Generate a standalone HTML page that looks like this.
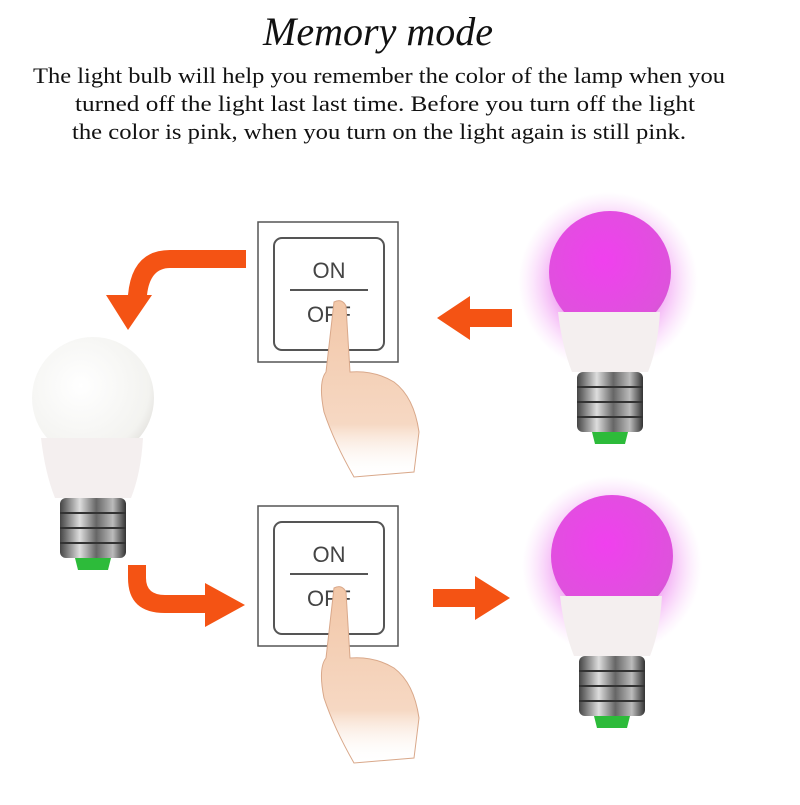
<!DOCTYPE html>
<html><head><meta charset="utf-8"><style>
html,body{margin:0;padding:0;background:#fff;}
body{width:800px;height:800px;overflow:hidden;position:relative;}
</style></head><body>
<svg width="800" height="800" viewBox="0 0 800 800" xmlns="http://www.w3.org/2000/svg">
<defs>
<radialGradient id="glow"><stop offset="0.45" stop-color="#e455e8" stop-opacity="0.8"/><stop offset="1" stop-color="#f6b8f7" stop-opacity="0"/></radialGradient>
<radialGradient id="pink" cx="0.45" cy="0.4" r="0.7"><stop offset="0" stop-color="#f040ee"/><stop offset="0.8" stop-color="#de52dc"/><stop offset="1" stop-color="#c85ac8"/></radialGradient>
<radialGradient id="white" cx="0.4" cy="0.4" r="0.7"><stop offset="0" stop-color="#ffffff"/><stop offset="0.8" stop-color="#f3f3f0"/><stop offset="1" stop-color="#dedcd8"/></radialGradient>
<linearGradient id="metal" x1="0" x2="1"><stop offset="0" stop-color="#444"/><stop offset="0.3" stop-color="#ddd"/><stop offset="0.55" stop-color="#666"/><stop offset="0.8" stop-color="#bbb"/><stop offset="1" stop-color="#333"/></linearGradient>
<linearGradient id="skin" x1="0" y1="0" x2="0" y2="1"><stop offset="0" stop-color="#f2c7a8"/><stop offset="0.7" stop-color="#f6d8c3"/><stop offset="1" stop-color="#fff" stop-opacity="0"/></linearGradient>
<g id="base">
<path d="M-52,40 L50,40 Q48,75 38,100 L-38,100 Q-48,75 -52,40 Z" fill="#f4efef"/>
<rect x="-33" y="100" width="66" height="60" rx="6" fill="url(#metal)"/>
<g stroke="#333" stroke-width="2"><line x1="-33" y1="115" x2="33" y2="115"/><line x1="-33" y1="130" x2="33" y2="130"/><line x1="-33" y1="145" x2="33" y2="145"/></g>
<path d="M-18,160 L18,160 L15,172 L-15,172 Z" fill="#2dbb3a"/>
</g>
<g id="hand">
<path d="M0,0 Q8,-4 12,4 L16,70 Q40,68 60,80 Q80,95 85,130 L80,170 L20,175 Q0,140 -10,110 Q-16,80 -8,70 Z" fill="url(#skin)" stroke="#d9a88a" stroke-width="1"/>
</g>
</defs>

<text x="378" y="45" text-anchor="middle" font-family="Liberation Serif, serif" font-style="italic" font-size="40" fill="#111" textLength="230" lengthAdjust="spacingAndGlyphs">Memory mode</text>
<g font-family="Liberation Serif, serif" font-size="22" fill="#111">
<text x="33" y="83" textLength="692" lengthAdjust="spacingAndGlyphs">The light bulb will help you remember the color of the lamp when you</text>
<text x="75" y="111" textLength="620" lengthAdjust="spacingAndGlyphs">turned off the light last last time. Before you turn off the light</text>
<text x="72" y="139" textLength="614" lengthAdjust="spacingAndGlyphs">the color is pink, when you turn on the light again is still pink.</text>
</g>

<!-- switches -->
<g fill="none" stroke="#555">
<rect x="258" y="222" width="140" height="140" stroke-width="1.5"/>
<rect x="274" y="238" width="110" height="112" rx="8" stroke-width="2"/>
<line x1="290" y1="290" x2="368" y2="290" stroke-width="2"/>
<rect x="258" y="506" width="140" height="140" stroke-width="1.5"/>
<rect x="274" y="522" width="110" height="112" rx="8" stroke-width="2"/>
<line x1="290" y1="574" x2="368" y2="574" stroke-width="2"/>
</g>
<g font-family="Liberation Sans, sans-serif" font-size="22" fill="#444" text-anchor="middle">
<text x="329" y="278">ON</text><text x="329" y="322">OFF</text>
<text x="329" y="562">ON</text><text x="329" y="606">OFF</text>
</g>
<use href="#hand" x="334" y="302"/>
<use href="#hand" x="334" y="588"/>

<!-- arrows -->
<g fill="#f45314">
<path d="M246,250 L246,268 L170,268 Q150,268 147,295 L152,295 L128,330 L106,295 L128,295 Q132,250 170,250 Z"/>
<path d="M128,565 L146,565 L146,578 Q146,595 165,595 L205,595 L205,583 L245,605 L205,627 L205,613 L165,613 Q128,613 128,578 Z"/>
<path d="M512,309 L470,309 L470,296 L437,318 L470,340 L470,327 L512,327 Z"/>
<path d="M433,589 L475,589 L475,576 L510,598 L475,620 L475,607 L433,607 Z"/>
</g>

<!-- pink bulbs -->
<circle cx="608" cy="282" r="90" fill="url(#glow)"/>
<circle cx="612" cy="566" r="90" fill="url(#glow)"/>
<g transform="translate(610,272)">
<circle cx="0" cy="0" r="61" fill="url(#pink)"/>
<use href="#base"/>
</g>
<g transform="translate(612,556)">
<circle cx="0" cy="0" r="61" fill="url(#pink)"/>
<use href="#base"/>
</g>
<!-- white bulb -->
<g transform="translate(93,398)">
<circle cx="0" cy="0" r="61" fill="url(#white)"/>
<use href="#base"/>
</g>
</svg>
</body></html>
